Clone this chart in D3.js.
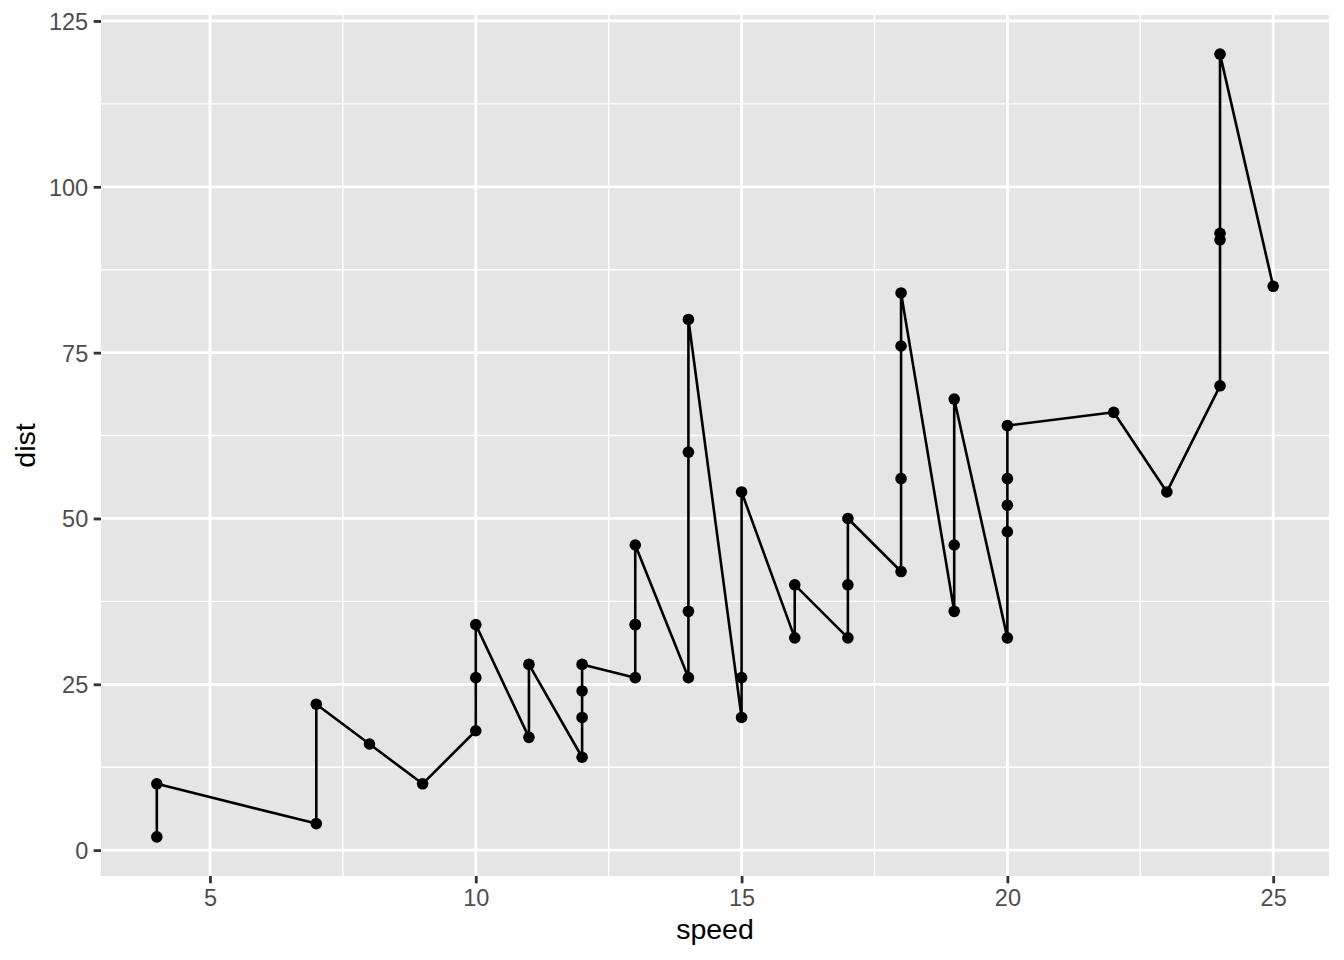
<!DOCTYPE html>
<html>
<head>
<meta charset="utf-8">
<script src="https://cdn.jsdelivr.net/npm/d3@7"></script>
<style>
  html, body { margin: 0; padding: 0; background: #fff; }
  svg { display: block; }
  text { font-family: "Liberation Sans", Arial, Helvetica, sans-serif; }
</style>
</head>
<body>
<svg id="chart" width="1344" height="960"></svg>
<script>
// cars dataset (R), in data order
const speed = [4,4,7,7,8,9,10,10,10,11,11,12,12,12,12,13,13,13,13,14,14,14,14,15,15,15,16,16,17,17,17,18,18,18,18,19,19,19,20,20,20,20,20,22,23,24,24,24,24,25];
const dist  = [2,10,4,22,16,10,18,26,34,17,28,14,20,24,28,26,34,34,46,26,36,60,80,20,26,54,32,40,32,40,50,42,56,76,84,36,46,68,32,48,52,56,64,66,54,70,92,93,120,85];
const xTicks = [5, 10, 15, 20, 25];
const yTicks = [0, 25, 50, 75, 100, 125];
const xMinor = [7.5, 12.5, 17.5, 22.5];
const yMinor = [12.5, 37.5, 62.5, 87.5, 112.5];
const xTitle = "speed";
const yTitle = "dist";

const data = speed.map((s, i) => ({ speed: s, dist: dist[i] }));
// geom_line sorts by x (stable)
const lineData = data.map((d, i) => ({ ...d, i }))
  .sort((a, b) => a.speed - b.speed || a.i - b.i);

const panel = { left: 101, right: 1329, top: 15, bottom: 876 };

function expand(ext) {
  const r = ext[1] - ext[0];
  return [ext[0] - 0.05 * r, ext[1] + 0.05 * r];
}
const x = d3.scaleLinear().domain(expand(d3.extent(speed))).range([panel.left, panel.right]);
const y = d3.scaleLinear().domain(expand(d3.extent(dist))).range([panel.bottom, panel.top]);

const svg = d3.select("#chart");

// panel background
svg.append("rect")
  .attr("x", panel.left).attr("y", panel.top)
  .attr("width", panel.right - panel.left).attr("height", panel.bottom - panel.top)
  .attr("fill", "#e5e5e5");

const grid = svg.append("g");
// minor grid
grid.selectAll("line.xminor").data(xMinor).join("line")
  .attr("class", "xminor")
  .attr("x1", d => x(d)).attr("x2", d => x(d))
  .attr("y1", panel.top).attr("y2", panel.bottom)
  .attr("stroke", "#fff").attr("stroke-width", 1.4);
grid.selectAll("line.yminor").data(yMinor).join("line")
  .attr("class", "yminor")
  .attr("y1", d => y(d)).attr("y2", d => y(d))
  .attr("x1", panel.left).attr("x2", panel.right)
  .attr("stroke", "#fff").attr("stroke-width", 1.4);
// major grid
grid.selectAll("line.xmajor").data(xTicks).join("line")
  .attr("class", "xmajor")
  .attr("x1", d => x(d)).attr("x2", d => x(d))
  .attr("y1", panel.top).attr("y2", panel.bottom)
  .attr("stroke", "#fff").attr("stroke-width", 2.8);
grid.selectAll("line.ymajor").data(yTicks).join("line")
  .attr("class", "ymajor")
  .attr("y1", d => y(d)).attr("y2", d => y(d))
  .attr("x1", panel.left).attr("x2", panel.right)
  .attr("stroke", "#fff").attr("stroke-width", 2.8);

// line
const line = d3.line().x(d => x(d.speed)).y(d => y(d.dist));
svg.append("path")
  .datum(lineData)
  .attr("d", line)
  .attr("fill", "none")
  .attr("stroke", "#000")
  .attr("stroke-width", 2.6)
  .attr("stroke-linejoin", "round");

// points
svg.append("g").selectAll("circle").data(data).join("circle")
  .attr("cx", d => x(d.speed)).attr("cy", d => y(d.dist))
  .attr("r", 5.8).attr("fill", "#000");

// axes
const xAxis = d3.axisBottom(x).tickValues(xTicks).tickSize(7.3).tickPadding(5.5).tickFormat(d3.format("d"));
const gx = svg.append("g").attr("transform", `translate(0,${panel.bottom})`).call(xAxis);
gx.select(".domain").remove();
gx.selectAll(".tick line").attr("stroke", "#333").attr("stroke-width", 2.8);
gx.selectAll(".tick text").attr("fill", "#4d4d4d").attr("font-size", 23.5)
  .attr("dy", "0.72em");

const yAxis = d3.axisLeft(y).tickValues(yTicks).tickSize(7.3).tickPadding(5.5).tickFormat(d3.format("d"));
const gy = svg.append("g").attr("transform", `translate(${panel.left},0)`).call(yAxis);
gy.select(".domain").remove();
gy.selectAll(".tick line").attr("stroke", "#333").attr("stroke-width", 2.8);
gy.selectAll(".tick text").attr("fill", "#4d4d4d").attr("font-size", 23.5)
  .attr("dy", "0.36em");

// axis titles
svg.append("text")
  .attr("x", (panel.left + panel.right) / 2).attr("y", 939)
  .attr("text-anchor", "middle").attr("font-size", 28.5).attr("fill", "#000")
  .text(xTitle);
svg.append("text")
  .attr("transform", `translate(35,${(panel.top + panel.bottom) / 2}) rotate(-90)`)
  .attr("text-anchor", "middle").attr("font-size", 28.5).attr("fill", "#000")
  .text(yTitle);
</script>
</body>
</html>
